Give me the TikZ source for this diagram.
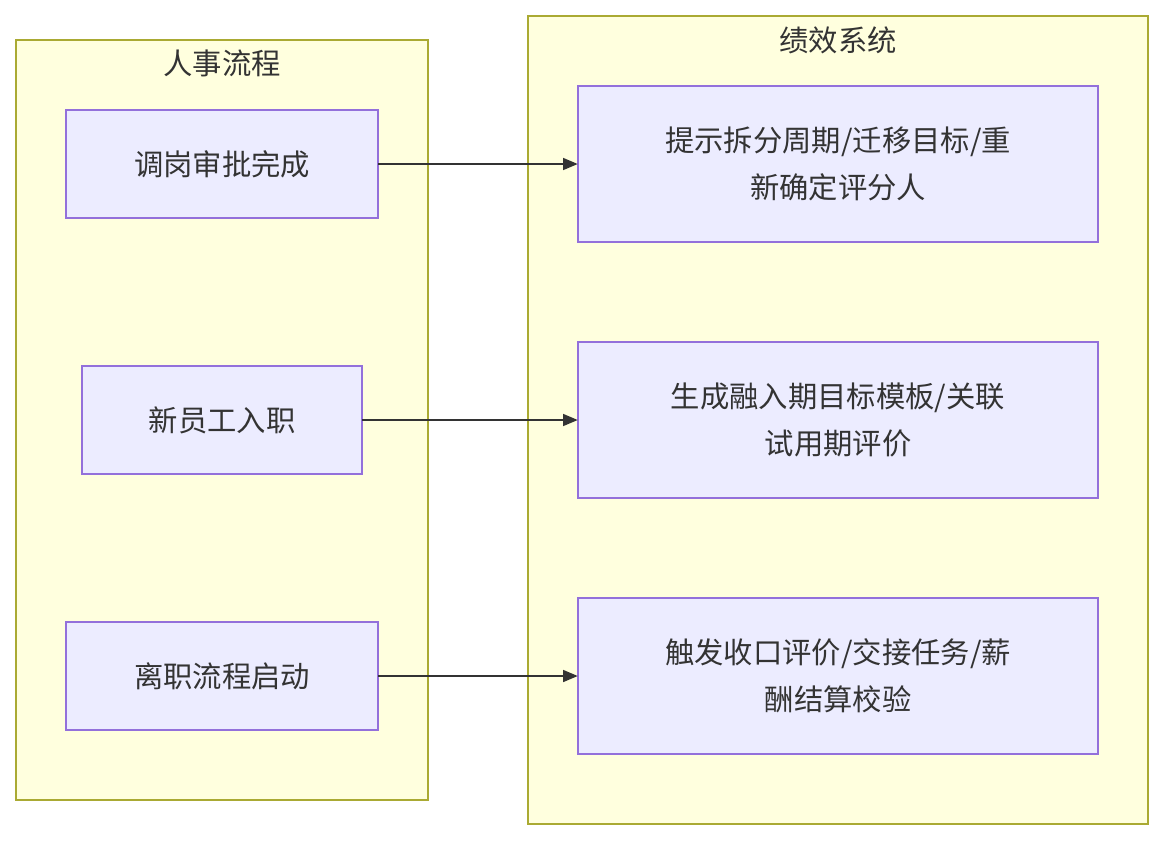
\documentclass[tikz,border=0pt]{standalone}
\usepackage{fontspec}
\setmainfont{Noto Sans CJK SC}
\usetikzlibrary{arrows.meta}
\definecolor{cfill}{HTML}{FFFFDE}
\definecolor{cline}{HTML}{AAAA33}
\definecolor{nfill}{HTML}{ECECFF}
\definecolor{nline}{HTML}{9370DB}
\definecolor{txt}{HTML}{333333}
\begin{document}
\begin{tikzpicture}[x=0.75pt,y=-0.75pt,
  clus/.style={draw=cline,fill=cfill,line width=1.2pt},
  box/.style={draw=nline,fill=nfill,line width=1.2pt},
  lbl/.style={text=txt,font=\fontsize{22}{35}\selectfont,align=center},
  arr/.style={draw=txt,line width=1.1pt,-{Triangle[length=11pt,width=9pt]}}]
\useasboundingbox (0,0) rectangle (1164,840);
\draw[clus] (16,40) rectangle (428,800);
\draw[clus] (528,16) rectangle (1148,824);
\node[lbl] (t1) at (222,63) {人事流程};
\node[lbl] (t2) at (838,40) {绩效系统};
\draw[box] (66,110) rectangle (378,218);
\draw[box] (82,366) rectangle (362,474);
\draw[box] (66,622) rectangle (378,730);
\draw[box] (578,86) rectangle (1098,242);
\draw[box] (578,342) rectangle (1098,498);
\draw[box] (578,598) rectangle (1098,754);
\node[lbl,minimum width=234pt,minimum height=81pt] (a) at (222,164) {调岗审批完成};
\node[lbl,minimum width=210pt,minimum height=81pt] (b) at (222,420) {新员工入职};
\node[lbl,minimum width=234pt,minimum height=81pt] (c) at (222,676) {离职流程启动};
\node[lbl,minimum width=390pt,minimum height=117pt] (r1) at (838,164) {提示拆分周期/迁移目标/重\\新确定评分人};
\node[lbl,minimum width=390pt,minimum height=117pt] (r2) at (838,420) {生成融入期目标模板/关联\\试用期评价};
\node[lbl,minimum width=390pt,minimum height=117pt] (r3) at (838,676) {触发收口评价/交接任务/薪\\酬结算校验};
\draw[arr] (a.east) -- (r1.west);
\draw[arr] (b.east) -- (r2.west);
\draw[arr] (c.east) -- (r3.west);
\end{tikzpicture}
\end{document}
